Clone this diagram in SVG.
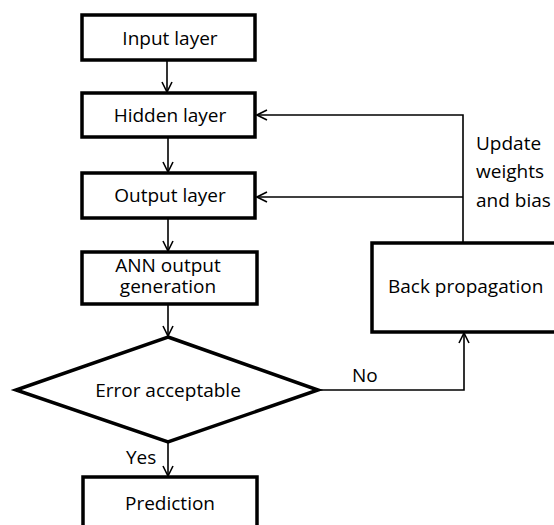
<svg xmlns="http://www.w3.org/2000/svg" width="554" height="525" viewBox="0 0 554 525">
<style>
.box{fill:#fff;stroke:#000;stroke-width:3.5}
.ln{fill:none;stroke:#000;stroke-width:1.6}
text{font-family:"Open Sans","Liberation Sans",sans-serif;font-size:19px;fill:#000}
.c{text-anchor:middle}
</style>
<defs>
<marker id="ah" viewBox="0 0 12 12" refX="11" refY="6" markerWidth="12" markerHeight="12" markerUnits="userSpaceOnUse" orient="auto">
<path d="M1,1 L11,6 L1,11" fill="none" stroke="#000" stroke-width="1.6"/>
</marker>
</defs>
<rect width="554" height="525" fill="#fff"/>
<g id="connectors">
<line class="ln" x1="167" y1="60" x2="167" y2="92" marker-end="url(#ah)"/>
<line class="ln" x1="168" y1="137" x2="168" y2="172" marker-end="url(#ah)"/>
<line class="ln" x1="168" y1="218" x2="168" y2="251" marker-end="url(#ah)"/>
<line class="ln" x1="168" y1="304" x2="168" y2="336" marker-end="url(#ah)"/>
<line class="ln" x1="168" y1="442" x2="168" y2="476" marker-end="url(#ah)"/>
<polyline class="ln" points="318,390 464,390 464,333" marker-end="url(#ah)"/>
<polyline class="ln" points="463,242 463,115 257,115" marker-end="url(#ah)"/>
<line class="ln" x1="463" y1="197" x2="257" y2="197" marker-end="url(#ah)"/>
<text x="352" y="382">No</text>
<text x="126" y="464">Yes</text>
<text x="476" y="150">Update</text>
<text x="476" y="178">weights</text>
<text x="476" y="207">and bias</text>
</g>
<g id="input">
<rect class="box" x="82" y="15" width="173" height="45"/>
<text class="c" x="170" y="45">Input layer</text>
</g>
<g id="hidden">
<rect class="box" x="82" y="93" width="173" height="44"/>
<text class="c" x="170" y="122">Hidden layer</text>
</g>
<g id="output">
<rect class="box" x="82" y="173" width="173" height="45"/>
<text class="c" x="170" y="202">Output layer</text>
</g>
<g id="ann">
<rect class="box" x="82" y="252" width="175" height="52"/>
<text class="c" x="168" y="272">ANN output</text>
<text class="c" x="168" y="293">generation</text>
</g>
<g id="error">
<polygon class="box" points="168,337 318,390 168,442 16,390"/>
<text class="c" x="168" y="397">Error acceptable</text>
</g>
<g id="prediction">
<rect class="box" x="83" y="477" width="174" height="60"/>
<text class="c" x="170" y="510">Prediction</text>
</g>
<g id="backprop">
<rect class="box" x="372" y="243" width="200" height="89"/>
<text x="388" y="293">Back propagation</text>
</g>
</svg>
